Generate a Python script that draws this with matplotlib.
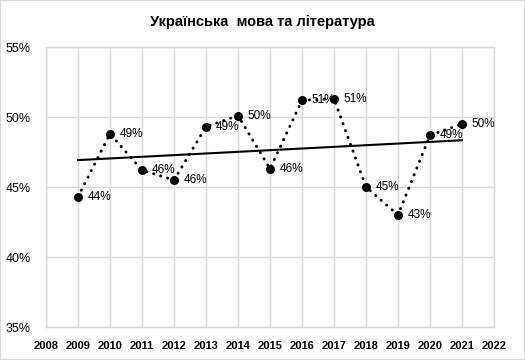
import matplotlib
matplotlib.use("Agg")
import matplotlib.pyplot as plt
import numpy as np
from matplotlib.patches import Rectangle

years = [2009, 2010, 2011, 2012, 2013, 2014, 2015, 2016, 2017, 2018, 2019, 2020, 2021]
values = [44.3, 48.8, 46.2, 45.5, 49.3, 50.1, 46.3, 51.2, 51.3, 45.0, 43.0, 48.7, 49.5]
x_ticks = list(range(2008, 2023))
y_ticks = [35, 40, 45, 50, 55]
title = "Українська  мова та література"

plt.rcParams['font.family'] = ['Liberation Sans', 'DejaVu Sans']

fig = plt.figure(figsize=(5.25, 3.6), dpi=100)
ax = fig.add_axes([46/525, 1-327/360, (494-46)/525, (327-47)/360])

grid_c = '#d9d9d9'
ax.set_xlim(2008, 2022)
ax.set_ylim(35, 55)
ax.set_xticks(x_ticks)
ax.set_yticks(y_ticks)
ax.set_xticklabels([str(t) for t in x_ticks], fontsize=8, fontweight='bold')
ax.set_yticklabels([f"{t}%" for t in y_ticks], fontsize=9)
ax.tick_params(length=0, pad=11, axis='y')
ax.tick_params(length=0, pad=10, axis='x')
ax.grid(True, color=grid_c, linewidth=1)
ax.set_axisbelow(True)
for s in ax.spines.values():
    s.set_color(grid_c)
    s.set_linewidth(1)

ax.plot(years, values, color='black', linestyle=(0, (0.1, 2.4)), linewidth=2.1,
        dash_capstyle='round', marker='o', markersize=5.5, zorder=3)

coef = np.polyfit(years, values, 1)
tx = np.array([years[0], years[-1]])
ax.plot(tx, np.polyval(coef, tx), color='black', linewidth=1.5, zorder=2)

for x, v in zip(years, values):
    ax.annotate(f"{int(v + 0.5)}%", (x, v), xytext=(7, 0), textcoords='offset points',
                ha='left', va='center', fontsize=8.5, zorder=4)

fig.text(0.5, 1-22/360, title, ha='center', va='center', fontsize=10.5, fontweight='bold')
fig.patches.append(Rectangle((0, 0), 1, 1, transform=fig.transFigure, fill=False,
                             edgecolor='#d9d9d9', linewidth=1.5))

fig.savefig("out.png", dpi=100)
